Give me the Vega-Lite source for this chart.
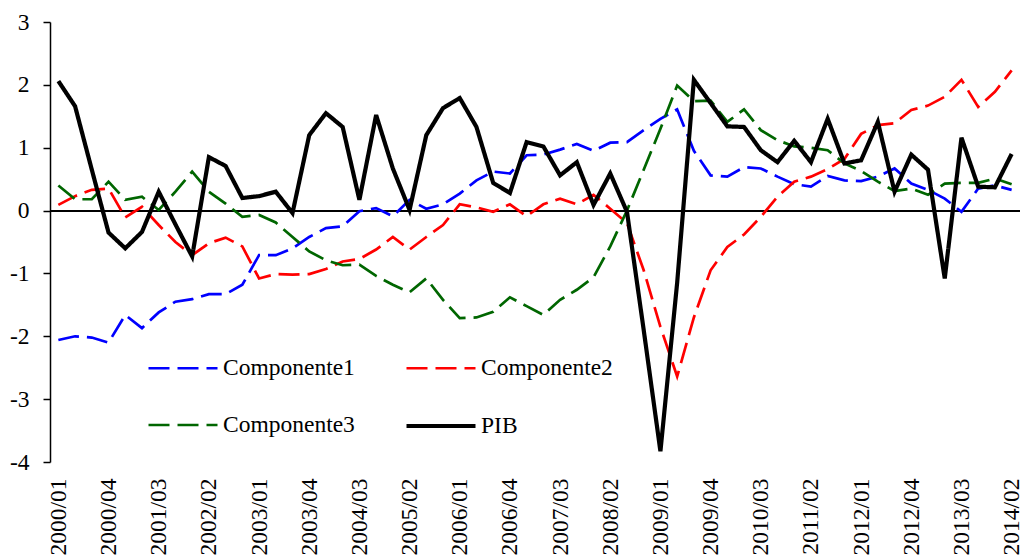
{
"$schema": "https://vega.github.io/schema/vega-lite/v6.json",
"width": 970, "height": 440,
"autosize": {"type": "none"},
"padding": {"left": 50, "top": 22, "right": 5, "bottom": 95},
"background": "white",
"config": {
  "view": {"stroke": null},
  "font": "Liberation Serif, Times New Roman, serif",
  "axisY": {"domainColor": "black", "domainWidth": 1.5, "tickColor": "black", "tickWidth": 1.5, "tickSize": 7, "labelPadding": 14, "labelFont": "Liberation Serif, Times New Roman, serif", "labelFontSize": 23.5, "labelColor": "black", "grid": false, "title": null},
  "axisX": {"domain": false, "ticks": false, "tickSize": 0, "labelPadding": 16, "labelAngle": -90, "labelFont": "Liberation Serif, Times New Roman, serif", "labelFontSize": 23.5, "labelColor": "black", "grid": false, "title": null},
  "legend": {"orient": "none", "direction": "horizontal", "legendX": 96, "legendY": 310, "columns": 2, "columnPadding": 43, "rowPadding": 9, "symbolType": "stroke", "symbolSize": 4761, "labelFont": "Liberation Serif, Times New Roman, serif", "labelFontSize": 23.5, "labelColor": "black", "labelOffset": 3, "padding": 0, "title": null}
},
"data": {"values": [
{"q":"2000/01","s":"Componente1","v":-2.06},{"q":"2000/02","s":"Componente1","v":-2.00},{"q":"2000/03","s":"Componente1","v":-2.02},{"q":"2000/04","s":"Componente1","v":-2.10},
{"q":"2001/01","s":"Componente1","v":-1.66},{"q":"2001/02","s":"Componente1","v":-1.87},{"q":"2001/03","s":"Componente1","v":-1.62},{"q":"2001/04","s":"Componente1","v":-1.45},
{"q":"2002/01","s":"Componente1","v":-1.41},{"q":"2002/02","s":"Componente1","v":-1.33},{"q":"2002/03","s":"Componente1","v":-1.33},{"q":"2002/04","s":"Componente1","v":-1.18},
{"q":"2003/01","s":"Componente1","v":-0.71},{"q":"2003/02","s":"Componente1","v":-0.71},{"q":"2003/03","s":"Componente1","v":-0.60},{"q":"2003/04","s":"Componente1","v":-0.42},
{"q":"2004/01","s":"Componente1","v":-0.28},{"q":"2004/02","s":"Componente1","v":-0.25},{"q":"2004/03","s":"Componente1","v":-0.01},{"q":"2004/04","s":"Componente1","v":0.04},
{"q":"2005/01","s":"Componente1","v":-0.09},{"q":"2005/02","s":"Componente1","v":0.17},{"q":"2005/03","s":"Componente1","v":0.03},{"q":"2005/04","s":"Componente1","v":0.10},
{"q":"2006/01","s":"Componente1","v":0.27},{"q":"2006/02","s":"Componente1","v":0.48},{"q":"2006/03","s":"Componente1","v":0.62},{"q":"2006/04","s":"Componente1","v":0.59},
{"q":"2007/01","s":"Componente1","v":0.88},{"q":"2007/02","s":"Componente1","v":0.89},{"q":"2007/03","s":"Componente1","v":0.97},{"q":"2007/04","s":"Componente1","v":1.06},
{"q":"2008/01","s":"Componente1","v":0.95},{"q":"2008/02","s":"Componente1","v":1.08},{"q":"2008/03","s":"Componente1","v":1.09},{"q":"2008/04","s":"Componente1","v":1.28},
{"q":"2009/01","s":"Componente1","v":1.46},{"q":"2009/02","s":"Componente1","v":1.61},{"q":"2009/03","s":"Componente1","v":0.95},{"q":"2009/04","s":"Componente1","v":0.56},
{"q":"2010/01","s":"Componente1","v":0.54},{"q":"2010/02","s":"Componente1","v":0.69},{"q":"2010/03","s":"Componente1","v":0.67},{"q":"2010/04","s":"Componente1","v":0.54},
{"q":"2011/01","s":"Componente1","v":0.42},{"q":"2011/02","s":"Componente1","v":0.38},{"q":"2011/03","s":"Componente1","v":0.55},{"q":"2011/04","s":"Componente1","v":0.48},
{"q":"2012/01","s":"Componente1","v":0.47},{"q":"2012/02","s":"Componente1","v":0.54},{"q":"2012/03","s":"Componente1","v":0.67},{"q":"2012/04","s":"Componente1","v":0.43},
{"q":"2013/01","s":"Componente1","v":0.33},{"q":"2013/02","s":"Componente1","v":0.19},{"q":"2013/03","s":"Componente1","v":-0.02},{"q":"2013/04","s":"Componente1","v":0.35},
{"q":"2014/01","s":"Componente1","v":0.40},{"q":"2014/02","s":"Componente1","v":0.33},
{"q":"2000/01","s":"Componente2","v":0.09},{"q":"2000/02","s":"Componente2","v":0.23},{"q":"2000/03","s":"Componente2","v":0.33},{"q":"2000/04","s":"Componente2","v":0.35},
{"q":"2001/01","s":"Componente2","v":-0.11},{"q":"2001/02","s":"Componente2","v":0.06},{"q":"2001/03","s":"Componente2","v":-0.23},{"q":"2001/04","s":"Componente2","v":-0.50},
{"q":"2002/01","s":"Componente2","v":-0.71},{"q":"2002/02","s":"Componente2","v":-0.52},{"q":"2002/03","s":"Componente2","v":-0.43},{"q":"2002/04","s":"Componente2","v":-0.57},
{"q":"2003/01","s":"Componente2","v":-1.08},{"q":"2003/02","s":"Componente2","v":-1.01},{"q":"2003/03","s":"Componente2","v":-1.02},{"q":"2003/04","s":"Componente2","v":-1.01},
{"q":"2004/01","s":"Componente2","v":-0.93},{"q":"2004/02","s":"Componente2","v":-0.81},{"q":"2004/03","s":"Componente2","v":-0.77},{"q":"2004/04","s":"Componente2","v":-0.62},
{"q":"2005/01","s":"Componente2","v":-0.42},{"q":"2005/02","s":"Componente2","v":-0.62},{"q":"2005/03","s":"Componente2","v":-0.42},{"q":"2005/04","s":"Componente2","v":-0.23},
{"q":"2006/01","s":"Componente2","v":0.10},{"q":"2006/02","s":"Componente2","v":0.05},{"q":"2006/03","s":"Componente2","v":-0.02},{"q":"2006/04","s":"Componente2","v":0.10},
{"q":"2007/01","s":"Componente2","v":-0.09},{"q":"2007/02","s":"Componente2","v":0.10},{"q":"2007/03","s":"Componente2","v":0.19},{"q":"2007/04","s":"Componente2","v":0.10},
{"q":"2008/01","s":"Componente2","v":0.25},{"q":"2008/02","s":"Componente2","v":0.03},{"q":"2008/03","s":"Componente2","v":-0.20},{"q":"2008/04","s":"Componente2","v":-0.95},
{"q":"2009/01","s":"Componente2","v":-1.85},{"q":"2009/02","s":"Componente2","v":-2.64},{"q":"2009/03","s":"Componente2","v":-1.70},{"q":"2009/04","s":"Componente2","v":-0.95},
{"q":"2010/01","s":"Componente2","v":-0.58},{"q":"2010/02","s":"Componente2","v":-0.38},{"q":"2010/03","s":"Componente2","v":-0.10},{"q":"2010/04","s":"Componente2","v":0.22},
{"q":"2011/01","s":"Componente2","v":0.46},{"q":"2011/02","s":"Componente2","v":0.54},{"q":"2011/03","s":"Componente2","v":0.66},{"q":"2011/04","s":"Componente2","v":0.82},
{"q":"2012/01","s":"Componente2","v":1.22},{"q":"2012/02","s":"Componente2","v":1.36},{"q":"2012/03","s":"Componente2","v":1.39},{"q":"2012/04","s":"Componente2","v":1.60},
{"q":"2013/01","s":"Componente2","v":1.67},{"q":"2013/02","s":"Componente2","v":1.81},{"q":"2013/03","s":"Componente2","v":2.08},{"q":"2013/04","s":"Componente2","v":1.65},
{"q":"2014/01","s":"Componente2","v":1.89},{"q":"2014/02","s":"Componente2","v":2.23},
{"q":"2000/01","s":"Componente3","v":0.40},{"q":"2000/02","s":"Componente3","v":0.18},{"q":"2000/03","s":"Componente3","v":0.18},{"q":"2000/04","s":"Componente3","v":0.46},
{"q":"2001/01","s":"Componente3","v":0.17},{"q":"2001/02","s":"Componente3","v":0.22},{"q":"2001/03","s":"Componente3","v":0.01},{"q":"2001/04","s":"Componente3","v":0.30},
{"q":"2002/01","s":"Componente3","v":0.62},{"q":"2002/02","s":"Componente3","v":0.30},{"q":"2002/03","s":"Componente3","v":0.11},{"q":"2002/04","s":"Componente3","v":-0.10},
{"q":"2003/01","s":"Componente3","v":-0.07},{"q":"2003/02","s":"Componente3","v":-0.19},{"q":"2003/03","s":"Componente3","v":-0.42},{"q":"2003/04","s":"Componente3","v":-0.65},
{"q":"2004/01","s":"Componente3","v":-0.79},{"q":"2004/02","s":"Componente3","v":-0.87},{"q":"2004/03","s":"Componente3","v":-0.86},{"q":"2004/04","s":"Componente3","v":-1.04},
{"q":"2005/01","s":"Componente3","v":-1.18},{"q":"2005/02","s":"Componente3","v":-1.30},{"q":"2005/03","s":"Componente3","v":-1.08},{"q":"2005/04","s":"Componente3","v":-1.42},
{"q":"2006/01","s":"Componente3","v":-1.71},{"q":"2006/02","s":"Componente3","v":-1.70},{"q":"2006/03","s":"Componente3","v":-1.61},{"q":"2006/04","s":"Componente3","v":-1.38},
{"q":"2007/01","s":"Componente3","v":-1.52},{"q":"2007/02","s":"Componente3","v":-1.66},{"q":"2007/03","s":"Componente3","v":-1.42},{"q":"2007/04","s":"Componente3","v":-1.26},
{"q":"2008/01","s":"Componente3","v":-1.06},{"q":"2008/02","s":"Componente3","v":-0.57},{"q":"2008/03","s":"Componente3","v":0.00},{"q":"2008/04","s":"Componente3","v":0.65},
{"q":"2009/01","s":"Componente3","v":1.30},{"q":"2009/02","s":"Componente3","v":1.99},{"q":"2009/03","s":"Componente3","v":1.74},{"q":"2009/04","s":"Componente3","v":1.75},
{"q":"2010/01","s":"Componente3","v":1.41},{"q":"2010/02","s":"Componente3","v":1.61},{"q":"2010/03","s":"Componente3","v":1.28},{"q":"2010/04","s":"Componente3","v":1.12},
{"q":"2011/01","s":"Componente3","v":1.02},{"q":"2011/02","s":"Componente3","v":1.00},{"q":"2011/03","s":"Componente3","v":0.96},{"q":"2011/04","s":"Componente3","v":0.75},
{"q":"2012/01","s":"Componente3","v":0.63},{"q":"2012/02","s":"Componente3","v":0.46},{"q":"2012/03","s":"Componente3","v":0.31},{"q":"2012/04","s":"Componente3","v":0.35},
{"q":"2013/01","s":"Componente3","v":0.25},{"q":"2013/02","s":"Componente3","v":0.43},{"q":"2013/03","s":"Componente3","v":0.44},{"q":"2013/04","s":"Componente3","v":0.44},
{"q":"2014/01","s":"Componente3","v":0.51},{"q":"2014/02","s":"Componente3","v":0.42},
{"q":"2000/01","s":"PIB","v":2.06},{"q":"2000/02","s":"PIB","v":1.66},{"q":"2000/03","s":"PIB","v":0.65},{"q":"2000/04","s":"PIB","v":-0.35},
{"q":"2001/01","s":"PIB","v":-0.60},{"q":"2001/02","s":"PIB","v":-0.34},{"q":"2001/03","s":"PIB","v":0.30},{"q":"2001/04","s":"PIB","v":-0.22},
{"q":"2002/01","s":"PIB","v":-0.73},{"q":"2002/02","s":"PIB","v":0.85},{"q":"2002/03","s":"PIB","v":0.71},{"q":"2002/04","s":"PIB","v":0.20},
{"q":"2003/01","s":"PIB","v":0.23},{"q":"2003/02","s":"PIB","v":0.30},{"q":"2003/03","s":"PIB","v":-0.04},{"q":"2003/04","s":"PIB","v":1.20},
{"q":"2004/01","s":"PIB","v":1.55},{"q":"2004/02","s":"PIB","v":1.33},{"q":"2004/03","s":"PIB","v":0.17},{"q":"2004/04","s":"PIB","v":1.52},
{"q":"2005/01","s":"PIB","v":0.67},{"q":"2005/02","s":"PIB","v":0.01},{"q":"2005/03","s":"PIB","v":1.20},{"q":"2005/04","s":"PIB","v":1.63},
{"q":"2006/01","s":"PIB","v":1.79},{"q":"2006/02","s":"PIB","v":1.33},{"q":"2006/03","s":"PIB","v":0.44},{"q":"2006/04","s":"PIB","v":0.28},
{"q":"2007/01","s":"PIB","v":1.09},{"q":"2007/02","s":"PIB","v":1.02},{"q":"2007/03","s":"PIB","v":0.56},{"q":"2007/04","s":"PIB","v":0.77},
{"q":"2008/01","s":"PIB","v":0.09},{"q":"2008/02","s":"PIB","v":0.59},{"q":"2008/03","s":"PIB","v":-0.02},{"q":"2008/04","s":"PIB","v":-1.90},
{"q":"2009/01","s":"PIB","v":-3.83},{"q":"2009/02","s":"PIB","v":-1.15},{"q":"2009/03","s":"PIB","v":2.08},{"q":"2009/04","s":"PIB","v":1.71},
{"q":"2010/01","s":"PIB","v":1.34},{"q":"2010/02","s":"PIB","v":1.33},{"q":"2010/03","s":"PIB","v":0.96},{"q":"2010/04","s":"PIB","v":0.77},
{"q":"2011/01","s":"PIB","v":1.11},{"q":"2011/02","s":"PIB","v":0.77},{"q":"2011/03","s":"PIB","v":1.46},{"q":"2011/04","s":"PIB","v":0.75},
{"q":"2012/01","s":"PIB","v":0.80},{"q":"2012/02","s":"PIB","v":1.41},{"q":"2012/03","s":"PIB","v":0.30},{"q":"2012/04","s":"PIB","v":0.89},
{"q":"2013/01","s":"PIB","v":0.65},{"q":"2013/02","s":"PIB","v":-1.08},{"q":"2013/03","s":"PIB","v":1.16},{"q":"2013/04","s":"PIB","v":0.38},
{"q":"2014/01","s":"PIB","v":0.37},{"q":"2014/02","s":"PIB","v":0.90}
]},
"layer": [
  {
    "mark": {"type": "rule", "color": "black", "strokeWidth": 1.3},
    "encoding": {"y": {"datum": 0, "type": "quantitative", "scale": {"domain": [-4, 3], "nice": false}, "axis": {"values": [-4,-3,-2,-1,0,1,2,3], "labelExpr": "'' + datum.value"}}}
  },
  {
    "mark": {"type": "line", "strokeCap": "butt"},
    "encoding": {
      "x": {"field": "q", "type": "ordinal", "scale": {"type": "point", "padding": 0.5},
            "axis": {"values": ["2000/01","2000/04","2001/03","2002/02","2003/01","2003/04","2004/03","2005/02","2006/01","2006/04","2007/03","2008/02","2009/01","2009/04","2010/03","2011/02","2012/01","2012/04","2013/03","2014/02"]}},
      "y": {"field": "v", "type": "quantitative", "scale": {"domain": [-4, 3], "nice": false}, "axis": {"values": [-4,-3,-2,-1,0,1,2,3], "labelExpr": "'' + datum.value"}},
      "color": {"field": "s", "type": "nominal", "scale": {"domain": ["Componente1","Componente2","Componente3","PIB"], "range": ["#0000FF","#FF0000","#006600","#000000"]}},
      "strokeDash": {"field": "s", "type": "nominal", "scale": {"domain": ["Componente1","Componente2","Componente3","PIB"], "range": [[21,8],[21,8],[21,8],[1,0]]}},
      "strokeWidth": {"field": "s", "type": "nominal", "scale": {"type": "ordinal", "domain": ["Componente1","Componente2","Componente3","PIB"], "range": [2.7,2.7,2.7,4.2]}}
    }
  }
]
}
